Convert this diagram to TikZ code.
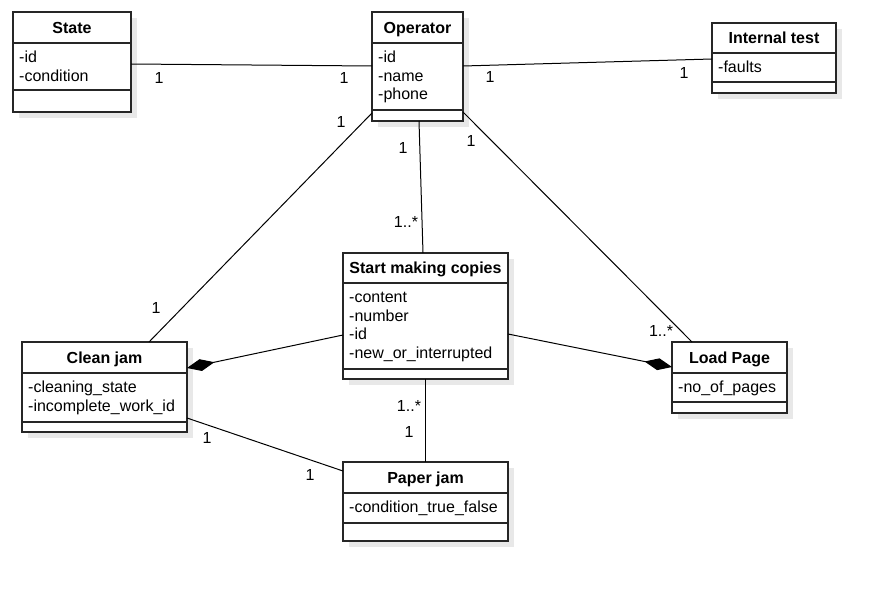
\documentclass[tikz,border=0pt]{standalone}
\usepackage{fontspec}
\setmainfont{Liberation Sans}
\usetikzlibrary{arrows.meta}
\tikzset{
 cls/.style={draw=black!85, line width=1.3pt, fill=white, inner sep=0pt, outer sep=0pt},
 sepline/.style={draw=black!85, line width=1.3pt},
 shadowbox/.style={fill=black!9},
 ttl/.style={font=\bfseries\fontsize{16}{19}\selectfont, inner sep=0pt, anchor=base},
 attr/.style={font=\fontsize{16}{19}\selectfont, inner sep=0pt, anchor=base west},
 conn/.style={draw=black, line width=1pt},
 comp/.style={conn, -{Diamond[length=28pt,width=12pt]}},
 mult/.style={font=\fontsize{16}{19}\selectfont, inner sep=0pt},
}
\newcommand\umlclass[9]{%
 \fill[shadowbox] (#2+6,#3+6) rectangle (#2+#4+6,#3+#5+6);
 \node[cls, minimum width=#4pt, minimum height=#5pt, anchor=north west] (#1) at (#2,#3) {};
 \draw[sepline] (#2,#3+#6) -- (#2+#4,#3+#6);
 \draw[sepline] (#2,#3+#7) -- (#2+#4,#3+#7);
 \node[ttl] (#1-t) at (#2+#4/2,#3+#6/2+5.8) {#8};
 \foreach \a [count=\i] in {#9} {\node[attr] (#1-a\i) at (#2+6,#3+#6+19.8+\i*18.5-18.5) {\a};}
}
\begin{document}
\begin{tikzpicture}[x=1pt,y=-1pt]
\useasboundingbox (0,0) rectangle (885,591);
\fill[white] (0,0) rectangle (885,591);

\umlclass{state}{13}{12}{118}{100}{31}{78}{State}{-id,-condition}
\umlclass{op}{372}{12}{91}{109}{31}{98}{Operator}{-id,-name,-phone}
\umlclass{it}{712}{23}{124}{70}{30}{59}{Internal test}{-faults}
\umlclass{smc}{343}{253}{165}{126}{30}{116}{Start making copies}{-content,-number,-id,-new\_or\_interrupted}
\umlclass{cj}{22}{342}{165}{90}{31}{80}{Clean jam}{-cleaning\_state,-incomplete\_work\_id}
\umlclass{ppj}{343}{462}{165}{79}{31}{61}{Paper jam}{-condition\_true\_false}
\umlclass{lp}{672}{342}{115}{71}{31}{60}{Load Page}{-no\_of\_pages}

% connectors
\draw[conn] ([yshift=-52pt]state.north east) -- ([yshift=-54pt]op.north west);
\draw[conn] ([yshift=-54pt]op.north east) -- ([yshift=-36pt]it.north west);
\draw[conn] ([yshift=-101pt]op.north west) -- ([xshift=127pt]cj.north west);
\draw[conn] ([xshift=47pt]op.south west) -- ([xshift=80pt]smc.north west);
\draw[conn] ([yshift=-100pt]op.north east) -- ([xshift=20pt]lp.north west);
\draw[comp] ([yshift=-82pt]smc.north west) -- ([yshift=-26pt]cj.north east);
\draw[comp] ([yshift=-81pt]smc.north east) -- ([yshift=-25pt]lp.north west);
\draw[conn] ([xshift=82pt]smc.south west) -- ([xshift=82pt]ppj.north west);
\draw[conn] ([yshift=-76pt]cj.north east) -- ([yshift=-9pt]ppj.north west);

% multiplicities
\node[mult] (m1) at (159,78) {1};
\node[mult] (m2) at (344,78) {1};
\node[mult] (m3) at (490,77) {1};
\node[mult] (m4) at (684,73) {1};
\node[mult] (m5) at (341,122) {1};
\node[mult] (m6) at (156,308) {1};
\node[mult] (m7) at (403,148) {1};
\node[mult] (m8) at (406,222) {1..*};
\node[mult] (m9) at (471,141) {1};
\node[mult] (m10) at (661,331) {1..*};
\node[mult] (m11) at (409,406) {1..*};
\node[mult] (m12) at (409,432) {1};
\node[mult] (m13) at (207,438) {1};
\node[mult] (m14) at (310,475) {1};
\end{tikzpicture}
\end{document}
